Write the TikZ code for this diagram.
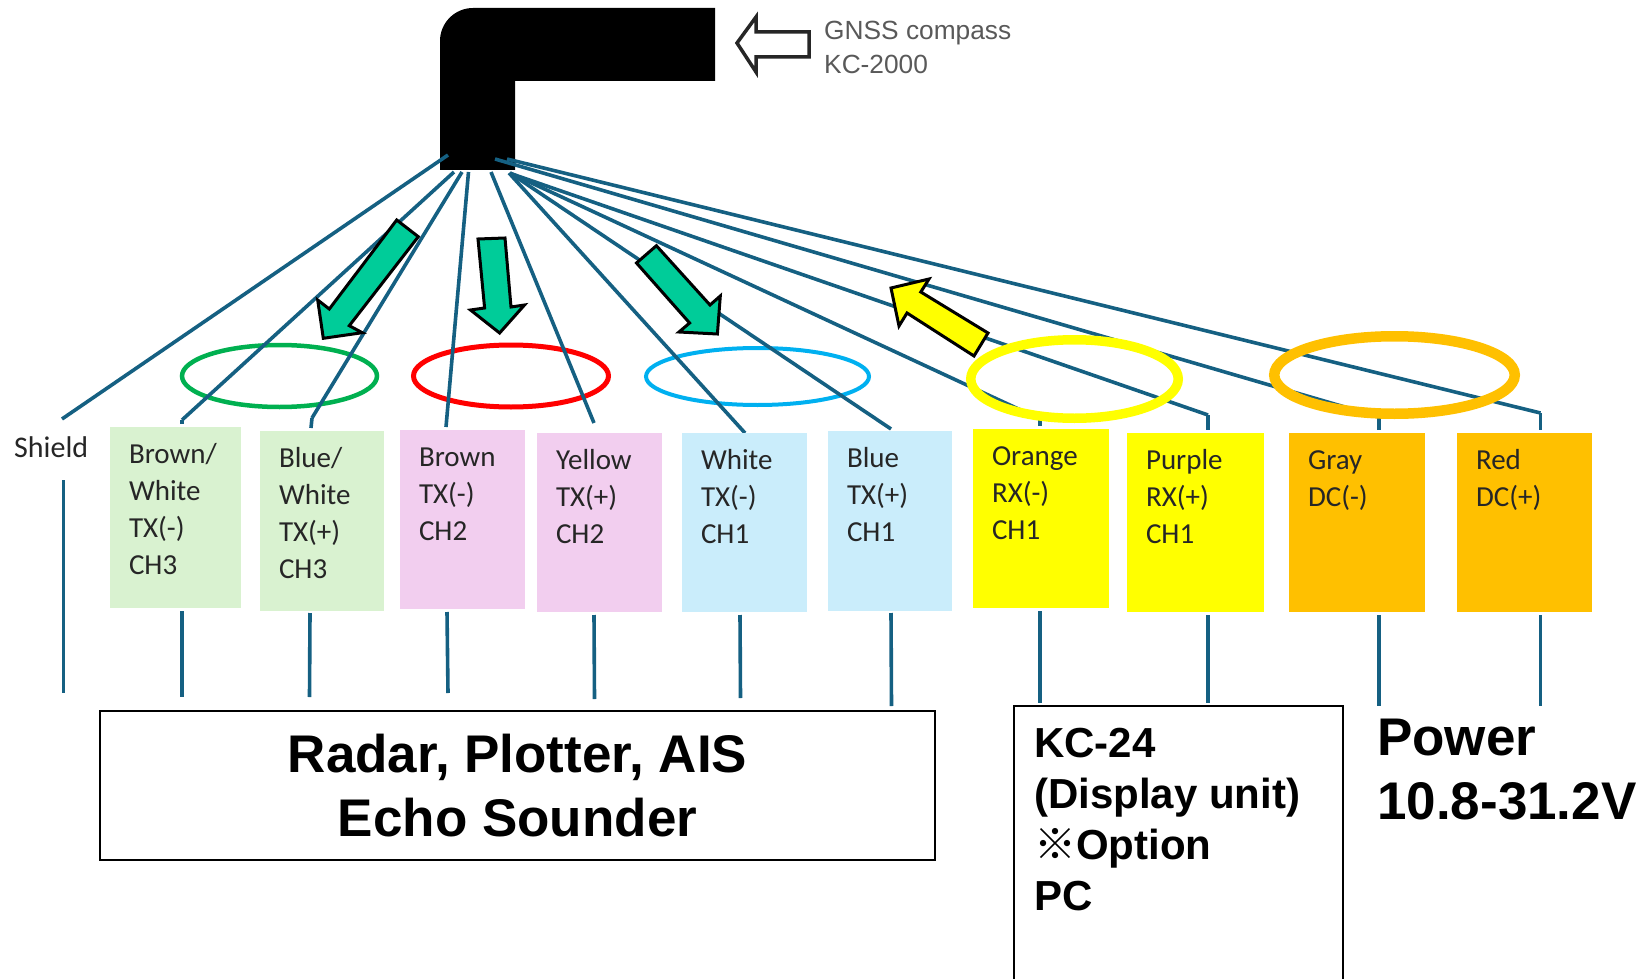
\documentclass[tikz,border=0pt]{standalone}
\usepackage{fontspec}
\setmainfont{Liberation Sans}
\newfontfamily\cellfont{Carlito}
\newfontfamily\cjkfont{Noto Sans CJK JP}
\usetikzlibrary{positioning,shapes.geometric}

\definecolor{wirecol}{HTML}{156082}
\definecolor{cellgreen}{HTML}{D9F2D0}
\definecolor{cellpink}{HTML}{F2CEEF}
\definecolor{cellblue}{HTML}{CAEDFB}
\definecolor{cellyellow}{HTML}{FFFF00}
\definecolor{cellorange}{HTML}{FFC000}
\definecolor{arrowgreen}{HTML}{00CC99}
\definecolor{ringgreen}{HTML}{00B050}
\definecolor{ringblue}{HTML}{00B0F0}

\newcommand{\celltext}[3]{\parbox[t][#2pt][t]{#1pt}{\leftskip=19pt\fontsize{29}{37}\cellfont\selectfont\rule{0pt}{36.5pt}#3}}

\tikzset{
	x=1pt, y=-1pt,
	wire/.style={draw=wirecol, line width=3.6pt, line join=round},
	cell/.style={anchor=north west, inner sep=0pt, outer sep=0pt, text=black!85},
	ring/.style={ellipse, inner sep=0pt, outer sep=0pt},
	blockarrow/.style={draw=black, line width=3pt, miter limit=10},
	boxline/.style={draw=black, line width=2pt},
	bigtext/.style={inner sep=0pt, align=left, font=\bfseries\fontsize{53}{64}\selectfont},
}

\begin{document}
\begin{tikzpicture}
	\useasboundingbox (0,0) rectangle (1652,979);

	% compass cable
	\fill[black] (440,170) [rounded corners=33pt] -- (440,8) [sharp corners] -- (715,8) -- (715,81) -- (515,81) -- (515,170) -- cycle;
	\draw[line width=3.5pt, draw=black!85, fill=white, miter limit=10]
	(737,43) -- (756,17) -- (756,32) -- (809,32) -- (809,57) -- (756,57) -- (756,72) -- cycle;
	\node[anchor=base west, inner sep=0pt, align=left, text=black!65, font=\fontsize{26.3}{34.7}\selectfont] (gnss) at (824,74) {GNSS compass\\KC-2000};

	% pair rings under the wires
	\node[ring, draw=ringgreen, line width=4.5pt, minimum width=195pt, minimum height=62pt] (ringch3) at (279.5,376) {};
	\node[ring, draw=red, line width=5pt, minimum width=195pt, minimum height=62pt] (ringch2) at (511,376) {};
	\node[ring, draw=ringblue, line width=4pt, minimum width=223pt, minimum height=57pt] (ringch1) at (757.5,376.5) {};

	% wire ends, cable side
	\coordinate (o1) at (448,155);
	\coordinate (o2) at (454,172);
	\coordinate (o3) at (462,172);
	\coordinate (o4) at (468.5,172);
	\coordinate (o5) at (491,172);
	\coordinate (o6) at (509,173);
	\coordinate (o7) at (510,173);
	\coordinate (o8) at (510,173);
	\coordinate (o9) at (512,174);
	\coordinate (o10) at (495,159);
	\coordinate (o11) at (507,159);
	% wire ends, above the cells
	\coordinate (t1) at (62,419);
	\coordinate (t2) at (182,420);
	\coordinate (t3) at (312,418);
	\coordinate (t4) at (446,427);
	\coordinate (t5) at (594,423);
	\coordinate (t6) at (745,433);
	\coordinate (t7) at (891,429);
	\coordinate (t8) at (1040,419);
	\coordinate (t9) at (1208,415);
	\coordinate (t10) at (1379,417);
	\coordinate (t11) at (1540.5,413);
	% short drops
	\coordinate (d2) at (182,424);
	\coordinate (d3) at (311,428);
	\coordinate (d8) at (1040,426);
	\coordinate (d9) at (1208,430);
	\coordinate (d10) at (1379,430);
	\coordinate (d11) at (1540.5,430);

	\path[wire]
	(o1) edge (t1)
	(o2) edge (t2)
	(t2) edge (d2)
	(o3) edge (t3)
	(t3) edge (d3)
	(o4) edge (t4)
	(o5) edge (t5)
	(o6) edge (t6)
	(o7) edge (t7)
	(o8) edge (t8)
	(t8) edge (d8)
	(o9) edge (t9)
	(t9) edge (d9)
	(o10) edge (t10)
	(t10) edge (d10)
	(o11) edge (t11)
	(t11) edge (d11);

	% rings over the wires
	\node[ring, draw=cellyellow, line width=9.5pt, minimum width=207.5pt, minimum height=78.5pt] (ringrx) at (1074.5,379) {};
	\node[ring, draw=cellorange, line width=10.5pt, minimum width=240.5pt, minimum height=77.5pt] (ringdc) at (1394.5,375) {};

	% block arrows
	\draw[blockarrow, fill=arrowgreen]
	(396.7,220) -- (418.3,236.7) -- (349.3,325.7) -- (362.3,332.7) -- (323.3,338.3) -- (317.7,300) -- (329.3,309) -- cycle;
	\draw[blockarrow, fill=arrowgreen]
	(478,239) -- (505,238) -- (511,307) -- (524.5,305) -- (499.6,333) -- (470.5,310) -- (484.6,308) -- cycle;
	\draw[blockarrow, fill=arrowgreen]
	(636.5,263) -- (656.4,245.7) -- (710,305) -- (720.3,296) -- (717.4,334) -- (679,332) -- (689.6,323) -- cycle;
	\draw[blockarrow, fill=cellyellow]
	(891,288) -- (929,279) -- (920.8,292) -- (988,333) -- (974,356) -- (907,313) -- (899,326) -- cycle;

	% cells
	\node[anchor=base west, inner sep=0pt, text=black!85, font=\cellfont\fontsize{30}{37}\selectfont] (shield) at (14,457) {Shield};
	\node[cell, fill=cellgreen] (bw) at (110,427) {\celltext{131}{181}{Brown/\\White\\TX(-)\\CH3}};
	\node[cell, fill=cellgreen] (lw) at (260,431) {\celltext{124}{180}{Blue/\\White\\TX(+)\\CH3}};
	\node[cell, fill=cellpink] (br) at (400,430) {\celltext{125}{179}{Brown\\TX(-)\\CH2}};
	\node[cell, fill=cellpink] (ye) at (537,433) {\celltext{125}{179}{Yellow\\TX(+)\\CH2}};
	\node[cell, fill=cellblue] (wh) at (682,433) {\celltext{125}{179}{White\\TX(-)\\CH1}};
	\node[cell, fill=cellblue] (bl) at (828,431) {\celltext{124}{180}{Blue\\TX(+)\\CH1}};
	\node[cell, fill=cellyellow] (or) at (973,429) {\celltext{136}{179}{Orange\\RX(-)\\CH1}};
	\node[cell, fill=cellyellow] (pu) at (1127,433) {\celltext{137}{179}{Purple\\RX(+)\\CH1}};
	\node[cell, fill=cellorange] (gr) at (1289,433) {\celltext{136}{179}{Gray\\DC(-)}};
	\node[cell, fill=cellorange] (re) at (1457,433) {\celltext{135}{179}{Red\\DC(+)}};

	% wires below the cells
	\coordinate (u1) at (63.5,480);  \coordinate (v1) at (63.5,693);
	\coordinate (u2) at (182,611);   \coordinate (v2) at (182,697);
	\coordinate (u3) at (310,613);   \coordinate (v3) at (309.5,697);
	\coordinate (u4) at (447,612);   \coordinate (v4) at (448,693);
	\coordinate (u5) at (594,615);   \coordinate (v5) at (594.5,699);
	\coordinate (u6) at (740,615);   \coordinate (v6) at (740.5,698);
	\coordinate (u7) at (891,613);   \coordinate (v7) at (891.5,706);
	\coordinate (u8) at (1040,611);  \coordinate (v8) at (1040,703);
	\coordinate (u9) at (1208,615);  \coordinate (v9) at (1208,703);
	\coordinate (u10) at (1379,615); \coordinate (v10) at (1379,706);
	\coordinate (u11) at (1540.5,615); \coordinate (v11) at (1540.5,706);

	\path[wire]
	(u1) edge (v1)
	(u2) edge (v2)
	(u3) edge (v3)
	(u4) edge (v4)
	(u5) edge (v5)
	(u6) edge (v6)
	(u7) edge (v7)
	(u8) edge (v8)
	(u9) edge (v9)
	(u10) edge (v10)
	(u11) edge (v11);

	% equipment
	\node[boxline, inner sep=0pt, outer sep=0pt, anchor=north west, minimum width=835pt, minimum height=149pt, align=center, font=\bfseries\fontsize{53}{64}\selectfont] (radar) at (100,711) {Radar, Plotter, AIS\\Echo Sounder};
	\draw[boxline] (1014,979) |- (1343,706) -- (1343,979);
	\node[bigtext, anchor=base west, font=\bfseries\fontsize{42}{51}\selectfont] (kc24) at (1034,910) {KC-24\\(Display unit)\\{\cjkfont ※}Option\\PC};
	\node[bigtext, anchor=base west] (power) at (1377,819) {Power\\10.8-31.2V};
\end{tikzpicture}
\end{document}
